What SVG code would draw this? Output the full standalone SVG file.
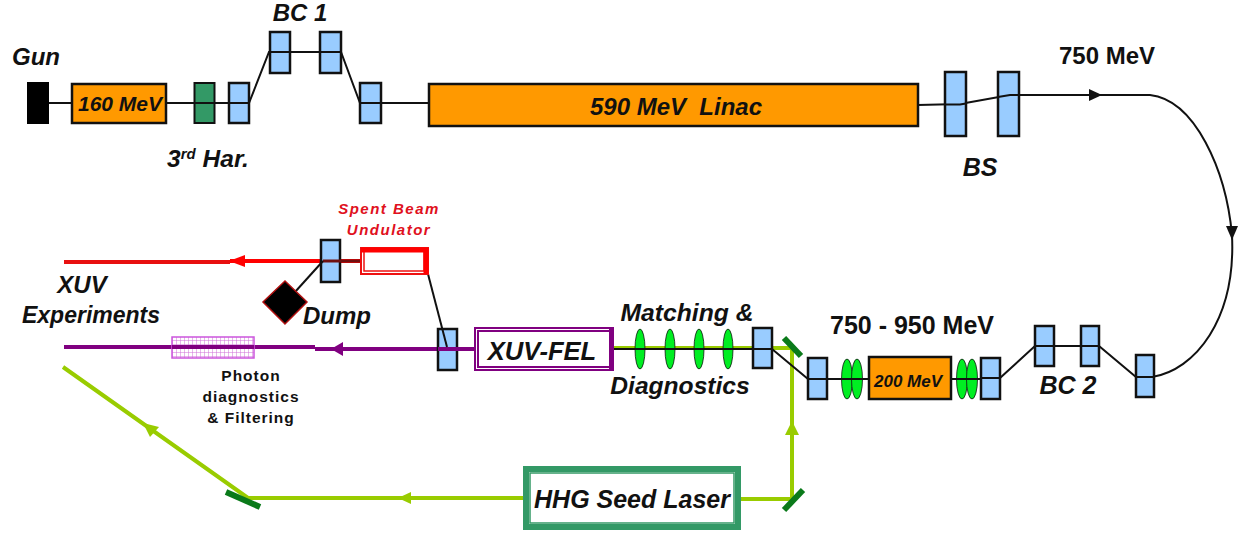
<svg xmlns="http://www.w3.org/2000/svg" width="1249" height="536" viewBox="0 0 1249 536">
<defs>
<pattern id="dots" width="4" height="4" patternUnits="userSpaceOnUse"><rect width="4" height="4" fill="#fff"/><path d="M0 0H4M0 0V4" stroke="#d070d8" stroke-width="1"/></pattern>
</defs>
<style>
text{font-family:"Liberation Sans",Arial,sans-serif;font-weight:bold;fill:#111;text-anchor:middle;white-space:pre}
.i{font-style:italic}
.b{fill:#99ccff;stroke:#111;stroke-width:2.500}
.o{fill:#ff9900;stroke:#111;stroke-width:2.500}
.e{fill:#00ee22;stroke:#111;stroke-width:.8}
.k{fill:none;stroke:#111;stroke-width:2}
.lg{fill:none;stroke:#99cc00;stroke-width:4}
.m{fill:none;stroke:#0a7a1a;stroke-width:6}
.s{fill:#e01020;letter-spacing:1.500px}
.p{letter-spacing:1px}
</style>
<rect width="1249" height="536" fill="#fff"/>
<g id="connectors">
<path class="lg" d="M612 348H792V499H741"/>
<path class="lg" d="M523 498H248L63 367"/>
<path d="M792 421L785 435H799Z" fill="#99cc00"/>
<path d="M398 498L411 492V504Z" fill="#99cc00"/>
<path d="M143 423L159 427L150 437Z" fill="#99cc00"/>
<path d="M64 262H230" fill="none" stroke="#e81010" stroke-width="4"/>
<path d="M230 261H360" fill="none" stroke="#ff0000" stroke-width="4"/>
<path d="M229 261L245 255V267Z" fill="#ff0000"/>
<path d="M64 347H315" fill="none" stroke="#800080" stroke-width="4"/>
<path d="M315 349H474" fill="none" stroke="#800080" stroke-width="4"/>
<path d="M331 349L343 342V356Z" fill="#800080"/>
<path class="k" d="M49 103H72M166 103H249L269 52H341L360 103H429"/>
<path class="k" d="M918 105L960 104L1010 95H1150C1195 100 1226 170 1232 235C1236 320 1195 370 1152 377"/>
<path d="M1102 95L1089 89V101Z" fill="#111"/>
<path d="M1232 240L1226 226H1238Z" fill="#111"/>
</g>
<g id="gun"><rect x="27" y="82" width="22" height="42" fill="#000"/><text class="i" x="36" y="65" font-size="24">Gun</text></g>
<g id="linac160"><rect class="o" x="72" y="84" width="94" height="39"/><text class="i" x="120" y="111" font-size="21">160 MeV</text></g>
<g id="third-har"><rect x="194.500" y="83" width="20" height="40" fill="#339966" stroke="#111" stroke-width="2"/><path class="k" d="M194 103H214"/><text class="i" x="208" y="167" font-size="24.500">3<tspan font-size="15" dy="-8">rd</tspan><tspan dy="8"> Har.</tspan></text></g>
<g id="bc1">
<rect class="b" x="229" y="83" width="20" height="40"/><rect class="b" x="270" y="32" width="20" height="41"/><rect class="b" x="320" y="32" width="21" height="41"/><rect class="b" x="360" y="83" width="21" height="40"/>
<path class="k" d="M229 103H249M270 52H290M320 52H341M360 103H381"/>
<text class="i" x="300" y="21" font-size="24">BC 1</text></g>
<g id="linac590"><rect class="o" x="429" y="84" width="489" height="42"/><text class="i" x="676" y="115" font-size="24">590 MeV  Linac</text></g>
<g id="bs"><rect class="b" x="945" y="72" width="21" height="64"/><rect class="b" x="998" y="72" width="21" height="64"/>
<path class="k" d="M945 104.500H960L966 103.500M998 97L1010 95H1019"/>
<text class="i" x="980" y="176" font-size="25">BS</text></g>
<text id="energy750" x="1107" y="64" font-size="24">750 MeV</text>
<g id="bc2">
<rect class="b" x="1035" y="326" width="19" height="40"/><rect class="b" x="1081" y="326" width="18" height="40"/><rect class="b" x="1136" y="355" width="18" height="42"/>
<path class="k" d="M1000 378L1035 346H1099L1136 377H1154"/>
<text class="i" x="1068" y="394" font-size="25">BC 2</text></g>
<g id="booster">
<path class="k" d="M772 349L808 379H981"/>
<rect class="b" x="808" y="358" width="19" height="41"/>
<ellipse class="e" cx="847" cy="379" rx="5.500" ry="20"/><ellipse class="e" cx="857" cy="379" rx="5.500" ry="20"/>
<ellipse class="e" cx="962" cy="379" rx="5.500" ry="20"/><ellipse class="e" cx="972" cy="379" rx="5.500" ry="20"/>
<rect class="o" x="869" y="357" width="82" height="42"/>
<rect class="b" x="981" y="358" width="19" height="41"/>
<path class="k" d="M808 379H827M981 378H1000M827 379H869M951 379H981"/>
<text class="i" x="908" y="387" font-size="17">200 MeV</text>
<text x="912" y="334" font-size="25">750 - 950 MeV</text></g>
<g id="matching">
<ellipse class="e" cx="640" cy="349" rx="5" ry="20"/><ellipse class="e" cx="670" cy="349" rx="5" ry="20"/><ellipse class="e" cx="699" cy="349" rx="5" ry="20"/><ellipse class="e" cx="728" cy="349" rx="5" ry="20"/>
<rect class="b" x="753" y="328" width="19" height="40"/>
<path class="k" d="M612 349H772"/>
<text class="i" x="687" y="321" font-size="24.700">Matching &amp;</text>
<text class="i" x="680" y="394" font-size="24.600">Diagnostics</text></g>
<path id="mirror-top" class="m" d="M784 338L801 356" stroke-width="5"/>
<path id="mirror-bottom" class="m" d="M784 510L803 490"/>
<path id="mirror-left" class="m" d="M226 492L260 507"/>
<g id="xuv-fel">
<rect class="b" x="438" y="329" width="19" height="41"/>
<path d="M438 349H474" stroke="#800080" stroke-width="4"/>
<path class="k" d="M428 274L447 347" stroke-width="1.500"/>
<rect x="475" y="328" width="138" height="42" fill="#fff" stroke="#800080" stroke-width="2"/>
<rect x="478" y="331" width="132" height="36" fill="none" stroke="#800080" stroke-width="2"/>
<path d="M611 328V371" stroke="#800080" stroke-width="4"/>
<text class="i" x="542" y="360" font-size="25.600">XUV-FEL</text></g>
<g id="spent-beam">
<rect class="b" x="321" y="240" width="19" height="42"/>
<path d="M323 261H361" stroke="#701010" stroke-width="3"/>
<path class="k" d="M323 261L295 292"/>
<rect x="361" y="248" width="67" height="26" fill="#fff" stroke="#ee1111" stroke-width="2"/>
<rect x="364" y="251" width="60" height="20" fill="none" stroke="#ee1111" stroke-width="1.500"/>
<path d="M361 250H428M426 248V274" stroke="#ff0000" stroke-width="5" fill="none"/>
<text class="i s" x="389" y="214" font-size="15">Spent Beam</text>
<text class="i s" x="389" y="235" font-size="15">Undulator</text></g>
<g id="dump"><path d="M285 281L307 302L285 324L263 302Z" fill="#000" stroke="#b01010" stroke-width="1.500"/><text class="i" x="337" y="324" font-size="24">Dump</text></g>
<g id="xuv-experiments"><text class="i" x="82" y="293" font-size="24">XUV</text><text class="i" x="91" y="323" font-size="23">Experiments</text></g>
<g id="photon-diagnostics">
<rect x="172" y="337" width="82" height="21" fill="url(#dots)" stroke="#cc55dd" stroke-width="1.500"/>
<path d="M172 347H254" stroke="#800080" stroke-width="4"/>
<text class="p" x="251" y="381" font-size="15.500">Photon</text><text class="p" x="251" y="402" font-size="15.500">diagnostics</text><text class="p" x="251" y="423" font-size="15.500">&amp; Filtering</text></g>
<g id="hhg"><rect x="526" y="469" width="212" height="58" fill="#fff" stroke="#339966" stroke-width="6"/><rect x="530" y="473" width="204" height="50" fill="none" stroke="#339966" stroke-width="1.500"/><text class="i" x="632" y="508" font-size="25">HHG Seed Laser</text></g>
</svg>
